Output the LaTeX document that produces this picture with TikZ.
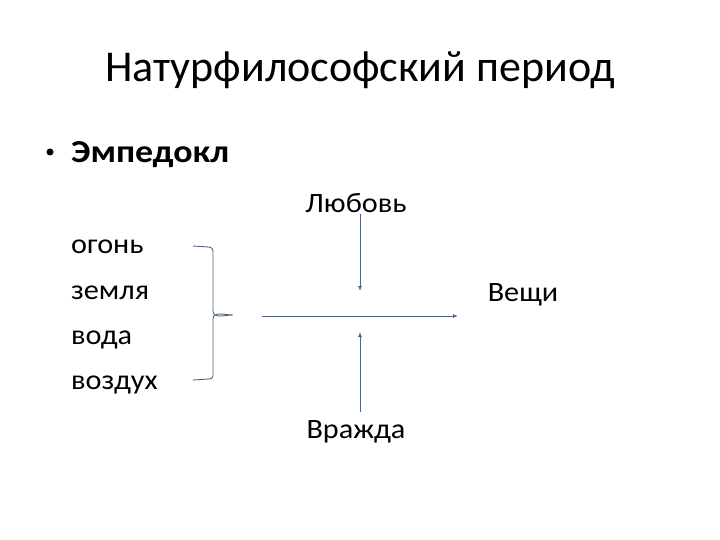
\documentclass[tikz,border=0pt]{standalone}
\usepackage{fontspec}
\setmainfont{Carlito}
\newfontfamily\widefont[FakeStretch=1.08]{Carlito}
\newfontfamily\widebold[FakeStretch=1.12]{Carlito}
\usetikzlibrary{arrows.meta}
\definecolor{lnc}{RGB}{80,102,128}
\tikzset{
  title/.style={font=\fontsize{44}{50}\selectfont, text=black, inner sep=0pt},
  body/.style={font=\widefont\fontsize{28}{32}\selectfont, text=black, inner sep=0pt, anchor=west},
  bodyb/.style={font=\widebold\bfseries\fontsize{32}{36}\selectfont, text=black, inner sep=0pt, anchor=west},
  conn/.style={draw=lnc, line width=0.9pt, -{Latex[length=5pt,width=4pt]}},
  brace/.style={draw=lnc, line width=0.9pt}
}
\begin{document}
\begin{tikzpicture}[x=1pt,y=-1pt]
\useasboundingbox[fill=white] (0,0) rectangle (720,540);
\node[title] (t) at (360,70) {Натурфилософский период};
\node[circle, fill=black, inner sep=0pt, minimum size=7pt] (bul) at (50,152) {};
\node[bodyb] (emp) at (71,155) {Эмпедокл};
\node[body] (e1) at (71,247) {огонь};
\node[body] (e2) at (71,293) {земля};
\node[body] (e3) at (71,340) {вода};
\node[body] (e4) at (71,385) {воздух};
\node[body,anchor=center] (lov) at (356,203) {Любовь};
\node[body,anchor=center] (ves) at (523,295) {Вещи};
\node[body,anchor=center] (vra) at (356,432) {Вражда};
\coordinate (h1) at (262,316);
\coordinate (h2) at (458,316);
\coordinate (v1) at (360,214);
\coordinate (v2) at (360,291);
\coordinate (w1) at (360,412);
\coordinate (w2) at (360,332);
\draw[conn] (v1) -- (v2);
\draw[conn] (w1) -- (w2);
\draw[conn] (h1) -- (h2);
\coordinate (b1) at (193,246);
\coordinate (b2) at (193,380);
\coordinate (bt) at (233,315);
\draw[brace] (b1) -- (209,247) to[out=0,in=90] (213,251) -- (213,311) to[out=-90,in=180] (bt)
  to[out=180,in=90] (213,319) -- (213,376) to[out=-90,in=0] (209,379) -- (b2);
\end{tikzpicture}
\end{document}
